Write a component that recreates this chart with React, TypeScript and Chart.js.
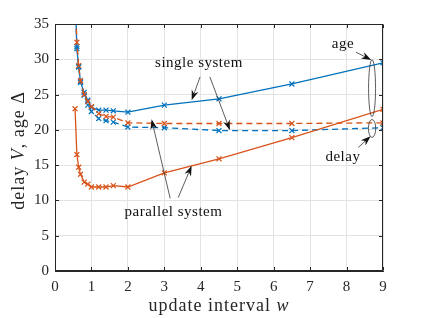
import React, { useEffect, useRef } from 'react';
import { Chart, registerables } from 'chart.js';

Chart.register(...registerables);

// ---------- data ----------
const updateInterval = [0.55, 0.6, 0.65, 0.7, 0.8, 0.9, 1.0, 1.2, 1.4, 1.6, 2, 3, 4.5, 6.5, 9];
const singleAge = [40, 31.5, 28.9, 26.8, 25.3, 24.2, 23.2, 22.8, 22.8, 22.7, 22.5, 23.5, 24.4, 26.5, 29.5];
const singleDelay = [40, 31.8, 29.0, 26.7, 24.9, 23.5, 22.6, 21.6, 21.3, 21.1, 20.4, 20.3, 19.9, 19.9, 20.3];
const parallelAge = [23, 16.5, 14.7, 13.7, 12.6, 12.3, 11.9, 11.9, 11.9, 12.1, 11.9, 13.9, 15.9, 18.9, 22.9];
const parallelDelay = [40, 32.4, 29.1, 27.0, 25.0, 24.0, 23.3, 22.3, 21.9, 21.8, 21.0, 20.9, 20.9, 20.9, 21.0];
const xTickValues = [0, 1, 2, 3, 4, 5, 6, 7, 8, 9];
const yTickValues = [0, 5, 10, 15, 20, 25, 30, 35];

// annotation anchors (data units)
const textLabels = [
  { text: 'single system', x: 3.95, y: 29.5 },
  { text: 'parallel system', x: 3.25, y: 8.3 },
  { text: 'age', x: 7.9, y: 32.1 },
  { text: 'delay', x: 7.9, y: 16.2 },
];
const arrowList = [
  { fx: 3.98, fy: 27.5, tx: 3.75, ty: 24.2 },
  { fx: 4.25, fy: 27.5, tx: 4.8, ty: 19.95 },
  { fx: 3.16, fy: 10.3, tx: 2.65, ty: 21.5 },
  { fx: 3.38, fy: 10.4, tx: 3.75, ty: 14.9 },
  { fx: 8.26, fy: 31.0, tx: 8.68, ty: 29.9 },
  { fx: 8.32, fy: 17.5, tx: 8.66, ty: 19.1 },
];
const ellipseList = [
  { x: 8.7, y: 25.9, rx: 0.096, ry: 4.03 },
  { x: 8.7, y: 20.2, rx: 0.1, ry: 1.27 },
];

const BLUE = '#0072BD';
const ORANGE = '#D95319';
const AXIS = '#262626';
const GRID = '#e3e3e3';
const SERIF = "'Liberation Serif', 'Times New Roman', serif";

function toPoints(ys: number[]) {
  return updateInterval.map((w, i) => ({ x: w, y: ys[i] }));
}

function drawMixed(ctx: CanvasRenderingContext2D, parts: { t: string; it: boolean }[], size: number, spacing: string) {
  (ctx as any).letterSpacing = spacing;
  let total = 0;
  const widths: number[] = [];
  for (const p of parts) {
    ctx.font = `${p.it ? 'italic ' : ''}${size}px ${SERIF}`;
    const w = ctx.measureText(p.t).width;
    widths.push(w);
    total += w;
  }
  let x = -total / 2;
  parts.forEach((p, i) => {
    ctx.font = `${p.it ? 'italic ' : ''}${size}px ${SERIF}`;
    ctx.fillText(p.t, x, 0);
    x += widths[i];
  });
}

function drawArrow(ctx: CanvasRenderingContext2D, x1: number, y1: number, x2: number, y2: number) {
  const dx = x2 - x1, dy = y2 - y1;
  const len = Math.hypot(dx, dy);
  const ux = dx / len, uy = dy / len;
  const nx = -uy, ny = ux;
  const L = 10, W = 3.5;
  ctx.beginPath();
  ctx.moveTo(x1, y1);
  ctx.lineTo(x2 - ux * L * 0.7, y2 - uy * L * 0.7);
  ctx.stroke();
  ctx.beginPath();
  ctx.moveTo(x2, y2);
  ctx.lineTo(x2 - ux * L + nx * W, y2 - uy * L + ny * W);
  ctx.lineTo(x2 - ux * L * 0.7, y2 - uy * L * 0.7);
  ctx.lineTo(x2 - ux * L - nx * W, y2 - uy * L - ny * W);
  ctx.closePath();
  ctx.fill();
}

const decorPlugin = {
  id: 'decor',
  afterDraw(chart: any) {
    const { ctx, chartArea: a, scales } = chart;
    const xs = scales.x, ys = scales.y;
    ctx.save();
    // box
    ctx.strokeStyle = AXIS;
    ctx.lineWidth = 1;
    const L = Math.round(a.left) + 0.5, R = Math.round(a.right) - 0.5;
    const T = Math.round(a.top) + 0.5, B = Math.round(a.bottom) - 0.5;
    ctx.strokeRect(L, T, R - L, B - T);
    // inner ticks
    ctx.beginPath();
    for (const v of xTickValues) {
      const p = Math.round(xs.getPixelForValue(v)) + 0.5;
      ctx.moveTo(p, B); ctx.lineTo(p, B - 3.5);
      ctx.moveTo(p, T); ctx.lineTo(p, T + 3.5);
    }
    for (const v of yTickValues) {
      const p = Math.round(ys.getPixelForValue(v)) + 0.5;
      ctx.moveTo(L, p); ctx.lineTo(L + 3.5, p);
      ctx.moveTo(R, p); ctx.lineTo(R - 3.5, p);
    }
    ctx.stroke();

    // axis titles
    ctx.fillStyle = AXIS;
    ctx.textBaseline = 'alphabetic';
    ctx.textAlign = 'left';
    ctx.save();
    ctx.translate((a.left + a.right) / 2, 311);
    drawMixed(ctx, [{ t: 'update interval ', it: false }, { t: 'w', it: true }], 18, '1px');
    ctx.restore();
    ctx.save();
    ctx.translate(24, (a.top + a.bottom) / 2 + 3);
    ctx.rotate(-Math.PI / 2);
    drawMixed(ctx, [{ t: 'delay ', it: false }, { t: 'V', it: true }, { t: ', age Δ', it: false }], 18, '1px');
    ctx.restore();

    // annotation texts
    (ctx as any).letterSpacing = '0.5px';
    ctx.font = `15px ${SERIF}`;
    ctx.textAlign = 'center';
    ctx.textBaseline = 'middle';
    ctx.fillStyle = '#111';
    for (const t of textLabels) {
      ctx.fillText(t.text, xs.getPixelForValue(t.x), ys.getPixelForValue(t.y));
    }
    (ctx as any).letterSpacing = '0px';

    // arrows
    ctx.strokeStyle = '#333';
    ctx.fillStyle = '#111';
    ctx.lineWidth = 0.8;
    for (const ar of arrowList) {
      drawArrow(ctx, xs.getPixelForValue(ar.fx), ys.getPixelForValue(ar.fy), xs.getPixelForValue(ar.tx), ys.getPixelForValue(ar.ty));
    }
    // ellipses
    ctx.strokeStyle = '#333';
    ctx.lineWidth = 0.8;
    for (const e of ellipseList) {
      const cx = xs.getPixelForValue(e.x), cy = ys.getPixelForValue(e.y);
      const rx = Math.abs(xs.getPixelForValue(e.x + e.rx) - cx);
      const ry = Math.abs(ys.getPixelForValue(e.y + e.ry) - cy);
      ctx.beginPath();
      ctx.ellipse(cx, cy, rx, ry, 0, 0, Math.PI * 2);
      ctx.stroke();
    }
    ctx.restore();
  },
};

function series(label: string, ys: number[], color: string, dashed: boolean) {
  return {
    label,
    data: toPoints(ys),
    borderColor: color,
    backgroundColor: color,
    borderWidth: 1.3,
    borderDash: dashed ? [6, 4] : [],
    pointStyle: 'crossRot',
    pointRadius: 3.5,
    pointBorderWidth: 1.2,
    pointBorderColor: color,
    fill: false,
    tension: 0,
  };
}

export default function App() {
  const ref = useRef<HTMLCanvasElement>(null);
  useEffect(() => {
    if (!ref.current) return;
    const chart = new Chart(ref.current, {
      type: 'line',
      data: {
        datasets: [
          series('parallel age', parallelAge, ORANGE, false),
          series('parallel delay', parallelDelay, ORANGE, true),
          series('single age', singleAge, BLUE, false),
          series('single delay', singleDelay, BLUE, true),
        ] as any,
      },
      options: {
        animation: false,
        responsive: false,
        layout: { padding: { top: 24, right: 41, left: 0, bottom: 0 } },
        plugins: { legend: { display: false }, tooltip: { enabled: false } },
        scales: {
          x: {
            type: 'linear',
            min: 0,
            max: 9,
            afterBuildTicks: (s: any) => { s.ticks = xTickValues.map((v) => ({ value: v })); },
            ticks: { font: { family: SERIF, size: 15 }, color: AXIS, padding: 7, maxRotation: 0 },
            grid: { color: GRID, drawTicks: false },
            border: { color: AXIS },
            afterFit: (s: any) => { s.height = 47; },
          },
          y: {
            type: 'linear',
            min: 0,
            max: 35,
            afterBuildTicks: (s: any) => { s.ticks = yTickValues.map((v) => ({ value: v })); },
            ticks: { font: { family: SERIF, size: 15 }, color: AXIS, padding: 6 },
            grid: { color: GRID, drawTicks: false },
            border: { color: AXIS },
            afterFit: (s: any) => { s.width = 55; },
          },
        },
      } as any,
      plugins: [decorPlugin],
    });
    return () => chart.destroy();
  }, []);
  return (
    <div style={{ position: 'absolute', left: 0, top: 0, width: 424, height: 318, background: '#fff' }}>
      <canvas ref={ref} width={424} height={318} style={{ display: 'block' }} />
    </div>
  );
}
